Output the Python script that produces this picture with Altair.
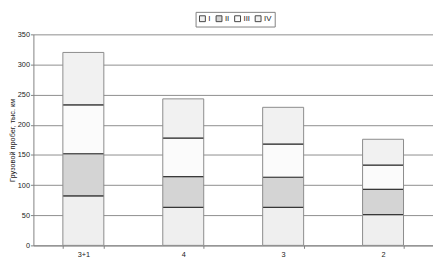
import altair as alt
import pandas as pd

categories = ["3+1", "4", "3", "2"]
series = ["I", "II", "III", "IV"]
vals_I = [82, 63, 63, 51]
vals_II = [70, 51, 50, 42]
vals_III = [81, 64, 55, 40]
vals_IV = [87, 65, 61, 43]
colors = ["#efefef", "#d4d4d4", "#fbfbfb", "#f1f1f1"]

rows = []
for s_i, (s, vals) in enumerate(zip(series, [vals_I, vals_II, vals_III, vals_IV])):
    for c, v in zip(categories, vals):
        rows.append({"cat": c, "series": s, "ord": s_i, "value": v})
df = pd.DataFrame(rows)

font = "Liberation Sans"
fs = 7.5
ytitle = "Грузовой пробег, тыс. км"

x_axis = alt.Axis(labelAngle=0, tickBand="extent", grid=False, domainColor="#808080",
                  tickColor="#808080", tickSize=3, labelFont=font, labelFontSize=fs,
                  labelColor="#222", labelPadding=2)
x_scale = alt.Scale(paddingInner=0.59, paddingOuter=0.295)
y_axis = alt.Axis(values=[0, 50, 100, 150, 200, 250, 300, 350], grid=True, gridColor="#8c8c8c",
                  domainColor="#808080", tickColor="#808080", tickSize=3,
                  labelFont=font, labelFontSize=fs, labelColor="#222", labelPadding=1,
                  titleFont=font, titleFontSize=fs, titleFontWeight="normal", titleColor="#222",
                  titlePadding=1)
y_scale = alt.Scale(domain=[0, 350], nice=False)

base = alt.Chart(df)

bars = base.mark_bar(stroke="#8a8a8a", strokeWidth=1).encode(
    x=alt.X("cat:N", sort=categories, title=None, scale=x_scale, axis=x_axis),
    y=alt.Y("value:Q", stack="zero", title=ytitle, scale=y_scale, axis=y_axis),
    color=alt.Color("series:N", sort=series,
                    scale=alt.Scale(domain=series, range=colors),
                    legend=alt.Legend(title=None, orient="none", direction="horizontal",
                                      legendX=166, legendY=-23,
                                      symbolType="square", symbolSize=36, symbolStrokeColor="#444",
                                      symbolStrokeWidth=1, labelFont=font, labelFontSize=8,
                                      labelColor="#222", strokeColor="#808080", padding=3,
                                      columnPadding=3, labelOffset=2, symbolOffset=0)),
    order=alt.Order("ord:Q", sort="ascending"),
)

dividers = base.transform_stack(
    stack="value", groupby=["cat"], as_=["v0", "v1"], sort=[alt.SortField("ord", order="ascending")]
).transform_filter("datum.ord < 3").mark_tick(color="#111", thickness=1.2, size=41, orient="horizontal").encode(
    x=alt.X("cat:N", sort=categories, title=None, scale=x_scale, axis=x_axis),
    y=alt.Y("v1:Q", title=ytitle, scale=y_scale, axis=y_axis),
)

chart = alt.layer(bars, dividers).properties(
    width=409, height=216,
    padding={"left": 0, "top": 0, "right": 0, "bottom": 0},
).configure_view(stroke=None)

chart.save("out.html", embed_options={"renderer": "svg", "actions": False})
